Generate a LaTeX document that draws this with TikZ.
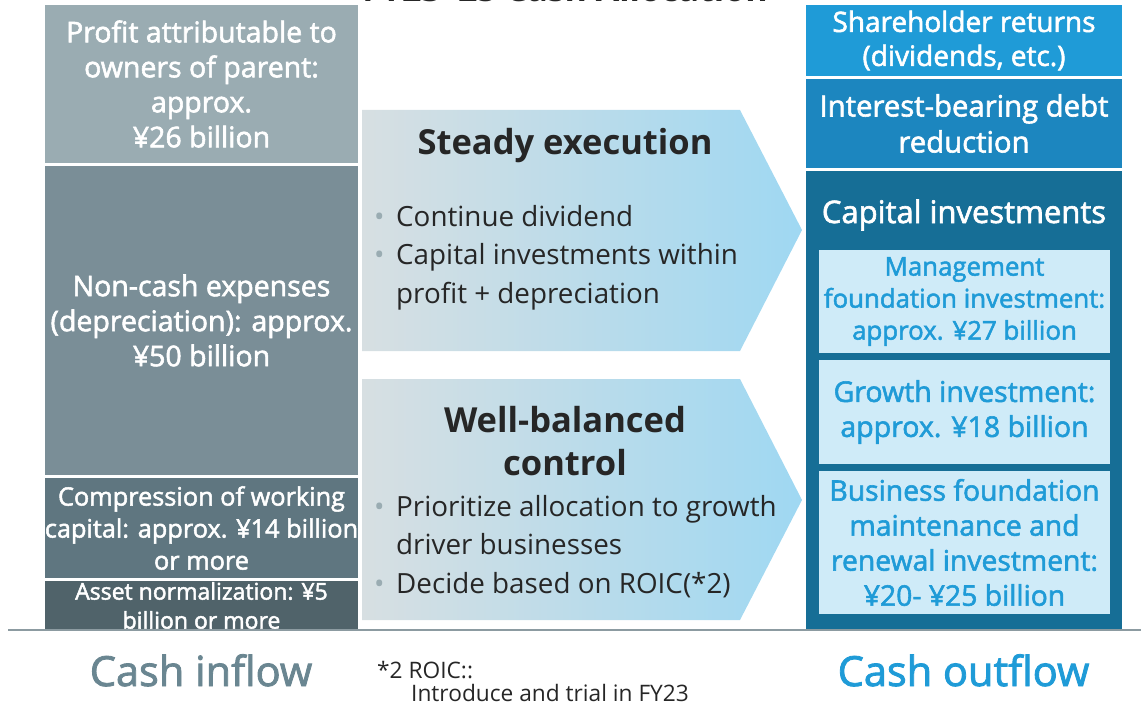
\documentclass[tikz,border=0pt]{standalone}
\usepackage{fontspec}
\setmainfont{Open Sans}
\newfontfamily\semib[FakeBold=2]{Open Sans}
\usetikzlibrary{positioning}

\definecolor{profitc}{HTML}{9AACB2}
\definecolor{noncashc}{HTML}{7A8E97}
\definecolor{compc}{HTML}{5F7680}
\definecolor{assetc}{HTML}{50636A}
\definecolor{basec}{HTML}{8C9BA1}
\definecolor{arrowl}{HTML}{D7DFE2}
\definecolor{arrowr}{HTML}{9FD8F2}
\definecolor{darktext}{HTML}{262626}
\definecolor{bulc}{HTML}{9AACB2}
\definecolor{sharec}{HTML}{1F9BD7}
\definecolor{debtc}{HTML}{1C86BF}
\definecolor{capc}{HTML}{166E96}
\definecolor{innerc}{HTML}{CFEBF8}
\definecolor{inflowc}{HTML}{6A8691}

\newcommand\itm{\makebox[22pt][l]{\textcolor{bulc}{•}}}
\newcommand\cont{\hspace*{22pt}}

\tikzset{
  inbox/.style={inner sep=0pt, minimum width=313, align=center, text=white},
  outbox/.style={inner sep=0pt, minimum width=316, align=center, text=white},
  invbox/.style={inner sep=0pt, minimum width=291, fill=innerc, align=center, text=sharec,
    font=\semib\fontsize{28.5}{35}\selectfont},
  head/.style={inner sep=0pt, text=darktext, align=center, font=\bfseries\fontsize{34.5}{43}\selectfont},
  items/.style={inner sep=0pt, text=darktext, align=left, font=\fontsize{27.8}{38.5}\selectfont},
}

\begin{document}
\begin{tikzpicture}[x=1pt,y=-1pt]
\useasboundingbox (0,0) rectangle (1141,706);
\begin{scope}
  \clip (0,0) rectangle (1141,706);
  \node[inner sep=0pt, anchor=base, text=darktext, font=\bfseries\fontsize{34}{40}\selectfont] (title) at (565,2) {FY23--25 Cash Allocation};
\end{scope}

% cash inflow
\node[inbox, fill=profitc, minimum height=158, font=\semib\fontsize{28.5}{35}\selectfont] (profit) at (201.5,84) {Profit attributable to\\owners of parent:\\approx.\\¥26 billion};
\node[inbox, fill=noncashc, minimum height=309, font=\semib\fontsize{28.5}{35}\selectfont] (noncash) at (201.5,320.5) {Non-cash expenses\\(depreciation): approx.\\¥50 billion};
\node[inbox, fill=compc, minimum height=100, font=\semib\fontsize{25.3}{32}\selectfont] (comp) at (201.5,528) {Compression of working\\capital: approx. ¥14 billion\\or more};
\node[inbox, fill=assetc, minimum height=49, font=\semib\fontsize{23}{29}\selectfont] (asset) at (201.5,605.5) {Asset normalization: ¥5\\billion or more};

% policy arrows
\shade[left color=arrowl, right color=arrowr] (362,110) -- (740,110) -- (802,230) -- (740,351) -- (362,351) -- cycle;
\shade[left color=arrowl, right color=arrowr] (362,379) -- (740,379) -- (802,500) -- (740,620) -- (362,620) -- cycle;

\node[head, anchor=base] (steady) at (565,155) {Steady execution};
\node[items, anchor=base west] (steadyitems) at (374,303) {\itm Continue dividend\\\itm Capital investments within\\\cont profit + depreciation};

\node[head, anchor=base] (balanced) at (565,475) {Well-balanced\\control};
\node[items, anchor=base west] (balanceditems) at (374,593) {\itm Prioritize allocation to growth\\\cont driver businesses\\\itm Decide based on ROIC(*2)};

% cash outflow
\node[outbox, fill=sharec, minimum height=71, font=\semib\fontsize{28}{34}\selectfont] (share) at (964,40.5) {Shareholder returns\\(dividends, etc.)};
\node[outbox, fill=debtc, minimum height=89, font=\semib\fontsize{29.3}{36}\selectfont] (debt) at (964,123.5) {Interest-bearing debt\\reduction};
\node[outbox, fill=capc, minimum height=459] (capbox) at (964,400.5) {};
\node[inner sep=0pt, anchor=base, text=white, font=\semib\fontsize{31}{36}\selectfont] (captitle) at (964,223) {Capital investments};
\node[invbox, minimum height=103, font=\semib\fontsize{25.8}{32}\selectfont] (mgmt) at (964.5,301.5) {Management\\foundation investment:\\approx. ¥27 billion};
\node[invbox, minimum height=104] (growth) at (964.5,412) {Growth investment:\\approx. ¥18 billion};
\node[invbox, minimum height=143, font=\semib\fontsize{28.3}{35}\selectfont] (maint) at (964.5,542.5) {Business foundation\\maintenance and\\renewal investment:\\¥20- ¥25 billion};

% base line and labels
\draw[basec, line width=1.5pt] (8,630) -- (1141,630);
\node[inner sep=0pt, anchor=base, text=inflowc, font=\semib\fontsize{41.5}{44}\selectfont] (inflow) at (201,686) {Cash inflow};
\node[inner sep=0pt, anchor=base, text=sharec, font=\semib\fontsize{41.5}{44}\selectfont] (outflow) at (963.5,686) {Cash outflow};
\node[inner sep=0pt, anchor=base west, align=left, text=darktext, font=\fontsize{22.7}{23}\selectfont] (note) at (377,701) {*2 ROIC::\\\hspace*{34pt}Introduce and trial in FY23};
\end{tikzpicture}
\end{document}
